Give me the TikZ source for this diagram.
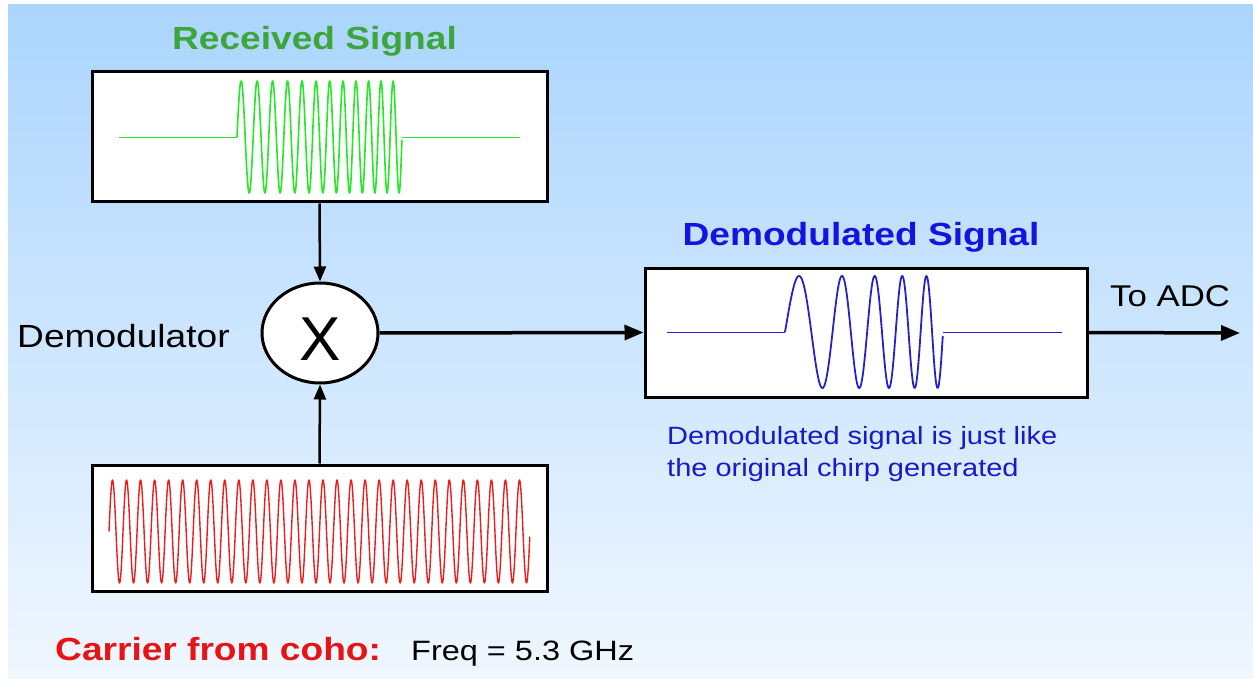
\documentclass[tikz,border=0pt]{standalone}
\usepackage{fontspec}
\setmainfont{Liberation Sans}
\usetikzlibrary{arrows.meta,shapes.geometric}
\definecolor{bgtop}{RGB}{171,213,253}
\definecolor{bgbot}{RGB}{240,247,255}
\definecolor{titlegreen}{RGB}{60,165,60}
\definecolor{wavegreen}{RGB}{40,230,40}
\definecolor{titleblue}{RGB}{20,20,225}
\definecolor{waveblue}{RGB}{35,35,200}
\definecolor{capblue}{RGB}{25,25,200}
\definecolor{titlered}{RGB}{230,20,20}
\definecolor{wavered}{RGB}{235,30,30}
\newcommand{\myfs}[1]{\fontsize{#1}{#1}\selectfont}
\newcommand{\hstretch}[1]{\scalebox{1.16}[1]{#1}}
\begin{document}
\begin{tikzpicture}[x=1pt,y=-1pt,
  sigbox/.style={draw=black, line width=3pt, fill=white, inner sep=0pt},
  mixer/.style={draw=black, ellipse, line width=3pt, fill=white, inner sep=0pt, minimum width=116pt, minimum height=100pt},
  varrow/.style={line width=2.5pt, -{Triangle[length=15pt,width=12pt]}},
  harrow/.style={line width=3.5pt, -{Triangle[length=19pt,width=15pt]}},
  lbl/.style={inner sep=0pt, anchor=base west},
  title/.style={inner sep=0pt, anchor=base, font=\bfseries\myfs{32}}
]
\useasboundingbox (0,0) rectangle (1253,679);
\fill[white] (0,0) rectangle (1253,679);
\shade[top color=bgtop, bottom color=bgbot] (8,5) rectangle (1253,679);

% boxes
\node[sigbox, minimum width=455pt, minimum height=130pt] (rx) at (319.5,137) {};
\node[sigbox, minimum width=455pt, minimum height=126pt] (co) at (319.5,528) {};
\node[sigbox, minimum width=442pt, minimum height=129pt] (dm) at (866,332.5) {};
\node[mixer] (mix) at (320,333) {};
\node[inner sep=0pt, font=\myfs{62}] (xm) at (320,339.5) {X};

% waves
\draw[wavegreen, line width=0.8pt] (119,137) -- (237,137);
\draw[wavegreen, line width=1.6pt, line join=round]
  plot[domain=0:1, samples=500, variable=\t] ({237+165*\t},{137-56*sin(360*(10*\t+2*\t*\t))});
\draw[wavegreen, line width=0.8pt] (402,137) -- (520,137);

\draw[waveblue, line width=0.9pt] (667,332) -- (785,332);
\draw[waveblue, line width=1.8pt, line join=round]
  plot[domain=0:1, samples=400, variable=\t] ({785+158*\t},{332-56*sin(360*(2.6*\t+2.4*\t*\t))});
\draw[waveblue, line width=0.9pt] (943,332) -- (1062,332);

\draw[wavered, line width=1.4pt, line join=round]
  plot[domain=0:1, samples=1200, variable=\t] ({109+421*\t},{531.5-51.5*sin(360*30*\t)});

% connectors
\coordinate (adc) at (1240,333);
\draw[varrow] (rx.south) -- (mix.north);
\draw[varrow] (co.north) -- (mix.south);
\draw[harrow] (mix.east) -- (dm.west);
\draw[harrow] (dm.east) -- (adc);

% texts
\node[title, text=titlegreen] (trx) at (314.5,50) {\hstretch{Received Signal}};
\node[title, text=titleblue] (tdm) at (861,245) {\hstretch{Demodulated Signal}};
\node[lbl, font=\myfs{32}] (tdemod) at (17,347) {\hstretch{Demodulator}};
\node[lbl, font=\myfs{30}] (tadc) at (1110,306) {\hstretch{To ADC}};
\node[lbl, font=\myfs{25}, text=capblue] (cap1) at (667,444) {\hstretch{Demodulated signal is just like}};
\node[lbl, font=\myfs{25}, text=capblue] (cap2) at (667,476) {\hstretch{the original chirp generated}};
\node[lbl, font=\bfseries\myfs{32}, text=titlered] (tco) at (55,660) {\hstretch{Carrier from coho:}};
\node[lbl, font=\myfs{28}] (tfreq) at (411,660) {\hstretch{Freq = 5.3 GHz}};
\end{tikzpicture}
\end{document}
